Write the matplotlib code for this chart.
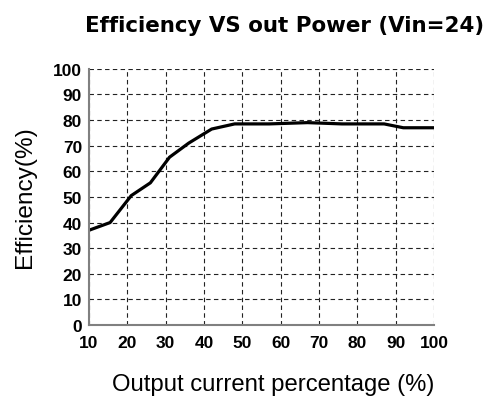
import matplotlib
matplotlib.use('Agg')
import matplotlib.pyplot as plt
import numpy as np

# curve
output_pct = [10, 15.5, 21, 26, 31, 36, 42, 48, 57, 67, 76, 87, 92, 100]
efficiency = [37, 40, 50.5, 55.5, 65.5, 71, 76.5, 78.5, 78.5, 79, 78.5, 78.5, 77, 77]

x_ticks = [10, 20, 30, 40, 50, 60, 70, 80, 90, 100]
y_ticks = [0, 10, 20, 30, 40, 50, 60, 70, 80, 90, 100]

fig = plt.figure(figsize=(4.92, 4.06), dpi=100)
ax = fig.add_axes([0.181, 0.197, 0.701, 0.631])

ax.plot(output_pct, efficiency, color='black', linewidth=2.3, solid_joinstyle='round')

ax.set_xlim(10, 100)
ax.set_ylim(0, 100)
ax.set_xticks(x_ticks)
ax.set_yticks(y_ticks)

# dashed grid, including the top and right edges
ax.grid(True, color='#222222', linestyle=(0, (4, 3)), linewidth=0.8)
ax.spines['top'].set_visible(False)
ax.spines['right'].set_visible(False)
for s in ['left', 'bottom']:
    ax.spines[s].set_color('#808080')
    ax.spines[s].set_linewidth(1.5)
    ax.spines[s].set_zorder(3)

ax.tick_params(axis='y', length=0, pad=5)
ax.tick_params(axis='x', length=0, pad=7)
for lab in ax.get_xticklabels() + ax.get_yticklabels():
    lab.set_fontfamily('Liberation Sans')
    lab.set_fontweight('bold')
    lab.set_fontsize(12.5)

fig.text(0.579, 0.935, 'Efficiency VS out Power (Vin=24)', ha='center', va='center',
         fontsize=15.4, fontweight='bold', family='DejaVu Sans')
fig.text(0.555, 0.052, 'Output current percentage (%)', ha='center', va='center',
         fontsize=17.2, family='Liberation Sans')
fig.text(0.05, 0.514, 'Efficiency(%)', ha='center', va='center', rotation=90,
         fontsize=17.6, family='Liberation Sans')

fig.savefig('out.png', dpi=100)
